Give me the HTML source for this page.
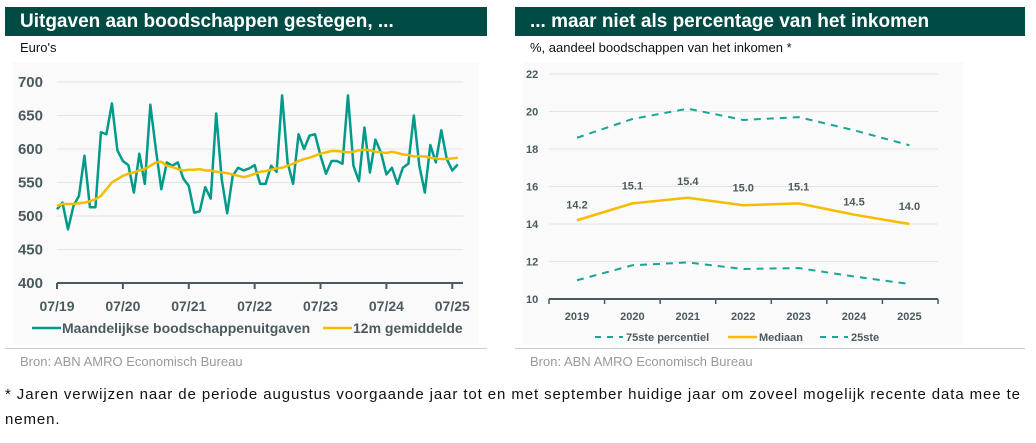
<!DOCTYPE html>
<html><head><meta charset="utf-8">
<style>
body{margin:0;width:1036px;height:443px;background:#fff;font-family:"Liberation Sans",sans-serif;overflow:hidden;position:relative}
.bar{position:absolute;top:7px;height:29px;background:#004c45;color:#fff;font-weight:bold;font-size:19px;line-height:29px;padding-left:15px;box-sizing:border-box}
.sub{position:absolute;top:40px;font-size:13px;color:#111}
.sep{position:absolute;top:348px;height:1px;background:#ccc}
.bron{position:absolute;top:354px;font-size:13px;color:#999}
.foot{position:absolute;left:5px;font-size:15px;color:#111;letter-spacing:0.9px}
svg{position:absolute;left:0;top:0}
</style></head><body>
<div class="bar" style="left:5px;width:482px">Uitgaven aan boodschappen gestegen, ...</div>
<div class="bar" style="left:515px;width:510px">... maar niet als percentage van het inkomen</div>
<div class="sub" style="left:20px">Euro's</div>
<div class="sub" style="left:530px">%, aandeel boodschappen van het inkomen *</div>
<div class="sep" style="left:5px;width:482px"></div>
<div class="sep" style="left:515px;width:510px"></div>
<div class="bron" style="left:20px">Bron: ABN AMRO Economisch Bureau</div>
<div class="bron" style="left:530px">Bron: ABN AMRO Economisch Bureau</div>
<div class="foot" style="top:386px;white-space:nowrap">* Jaren verwijzen naar de periode augustus voorgaande jaar tot en met september huidige jaar om zoveel mogelijk recente data mee te</div>
<div class="foot" style="top:411px">nemen.</div>
<svg id="chart" width="1036" height="443">
<rect x="13" y="62" width="466" height="283" fill="#fafafa"/>
<rect x="523" y="62" width="440" height="283" fill="#fafafa"/>
</svg>
<script>
const monthly=[510,520,480,515,530,590,513,513,625,622,668,598,582,576,535,593,548,666,600,540,580,575,580,556,545,505,507,543,526,653,555,504,560,572,568,571,576,548,548,575,566,680,580,548,622,600,620,622,590,563,582,582,578,680,575,552,632,565,614,595,562,572,548,572,578,650,575,535,606,580,628,585,568,577];
const avg12=[515,518,518,518,519,520,522,525,530,540,550,555,560,563,565,568,570,575,580,581,575,573,570,568,569,569,570,568,568,566,565,564,562,560,558,560,563,566,567,569,571,572,575,578,582,585,587,590,593,595,597,597,596,595,596,598,599,598,596,595,594,596,594,592,591,589,589,589,587,586,585,585,586,587];
const leftTicks=[400,450,500,550,600,650,700];
const leftXLabels=["07/19","07/20","07/21","07/22","07/23","07/24","07/25"];
const years=["2019","2020","2021","2022","2023","2024","2025"];
const p75=[18.6,19.6,20.15,19.55,19.7,19.0,18.2];
const median=[14.2,15.1,15.4,15.0,15.1,14.5,14.0];
const p25=[11.0,11.8,11.95,11.6,11.65,11.2,10.8];
const rightTicks=[10,12,14,16,18,20,22];

const svg=document.getElementById('chart');
const NS='http://www.w3.org/2000/svg';
function mk(t,a,txt){const e=document.createElementNS(NS,t);for(const k in a)e.setAttribute(k,a[k]);if(txt!==undefined)e.textContent=txt;svg.appendChild(e);return e;}
const lx=i=>57+i*5.49, ly=v=>283-(v-400)*0.67;
leftTicks.forEach(v=>{
 if(v>400){const g=mk('line',{x1:57,x2:463,y1:ly(v),y2:ly(v),stroke:'#e4e4e4','stroke-width':1});
 
 }
 const t=mk('text',{x:43,y:ly(v)+5,'text-anchor':'end','font-size':15,'font-weight':'bold',fill:'#4a5a5f'},v);
 
 
});
const la=mk('line',{x1:57,x2:463,y1:283,y2:283,stroke:'#4a5a5f','stroke-width':2});


leftXLabels.forEach((s,i)=>{
 const x=lx(i*12);
 const tk=mk('line',{x1:x,x2:x,y1:283,y2:289,stroke:'#4a5a5f','stroke-width':2});
 
 
 const t=mk('text',{x:x,y:311,'text-anchor':'middle','font-size':14,'font-weight':'bold',fill:'#4a5a5f'},s);
 
 
});
const mline=mk('polyline',{points:monthly.map((v,i)=>lx(i)+','+ly(v)).join(' '),fill:'none',stroke:'#009a8a','stroke-width':2.5,'stroke-linejoin':'round'});


const aline=mk('polyline',{points:avg12.map((v,i)=>lx(i)+','+ly(v)).join(' '),fill:'none',stroke:'#f5bd00','stroke-width':2.5,'stroke-linejoin':'round'});


let e;
e=mk('line',{x1:32,x2:61,y1:328,y2:328,stroke:'#009a8a','stroke-width':2.5});


e=mk('text',{x:62,y:333,'font-size':14,'font-weight':'bold',fill:'#4a5a5f'},'Maandelijkse boodschappenuitgaven');


e=mk('line',{x1:323,x2:352,y1:328,y2:328,stroke:'#f5bd00','stroke-width':2.5});


e=mk('text',{x:353,y:333,'font-size':14,'font-weight':'bold',fill:'#4a5a5f'},'12m gemiddelde');


const rx=i=>577+i*55.4, ry=v=>299-(v-10)*18.75;
rightTicks.forEach(v=>{
 if(v>10){const g=mk('line',{x1:549,x2:938,y1:ry(v),y2:ry(v),stroke:'#e4e4e4','stroke-width':1});
 
 }
 const t=mk('text',{x:526,y:ry(v)+4,'font-size':11,'font-weight':'bold',fill:'#4a5a5f'},v);
 
 
});
e=mk('line',{x1:549,x2:938,y1:299,y2:299,stroke:'#4a5a5f','stroke-width':2});


for(let i=0;i<=7;i++){const x=549+i*(938-549)/7;
 e=mk('line',{x1:x,x2:x,y1:299,y2:304,stroke:'#4a5a5f','stroke-width':1.5});
 
 }
years.forEach((s,i)=>{
 e=mk('text',{x:rx(i),y:320,'text-anchor':'middle','font-size':11,'font-weight':'bold',fill:'#4a5a5f'},s);
 
 
});
e=mk('polyline',{points:p75.map((v,i)=>rx(i)+','+ry(v)).join(' '),fill:'none',stroke:'#1aa597','stroke-width':2,'stroke-dasharray':'7 6'});


e=mk('polyline',{points:p25.map((v,i)=>rx(i)+','+ry(v)).join(' '),fill:'none',stroke:'#1aa597','stroke-width':2,'stroke-dasharray':'7 6'});


e=mk('polyline',{points:median.map((v,i)=>rx(i)+','+ry(v)).join(' '),fill:'none',stroke:'#f5bd00','stroke-width':2.5});


const lblOff=[12,14,13,14,13,9,14];
median.forEach((v,i)=>{
 e=mk('text',{x:rx(i),y:ry(v)-lblOff[i],'text-anchor':'middle','font-size':11,'font-weight':'bold',fill:'#4a5a5f'},v.toFixed(1));
 
 
});
e=mk('line',{x1:595,x2:623,y1:337,y2:337,stroke:'#1aa597','stroke-width':2,'stroke-dasharray':'6 6'});


e=mk('text',{x:626,y:341,'font-size':11,'font-weight':'bold',fill:'#4a5a5f'},'75ste percentiel');


e=mk('line',{x1:728,x2:757,y1:337,y2:337,stroke:'#f5bd00','stroke-width':2.5});


e=mk('text',{x:759,y:341,'font-size':11,'font-weight':'bold',fill:'#4a5a5f'},'Mediaan');


e=mk('line',{x1:820,x2:848,y1:337,y2:337,stroke:'#1aa597','stroke-width':2,'stroke-dasharray':'6 6'});


e=mk('text',{x:851,y:341,'font-size':11,'font-weight':'bold',fill:'#4a5a5f'},'25ste');


</script>
</body></html>
